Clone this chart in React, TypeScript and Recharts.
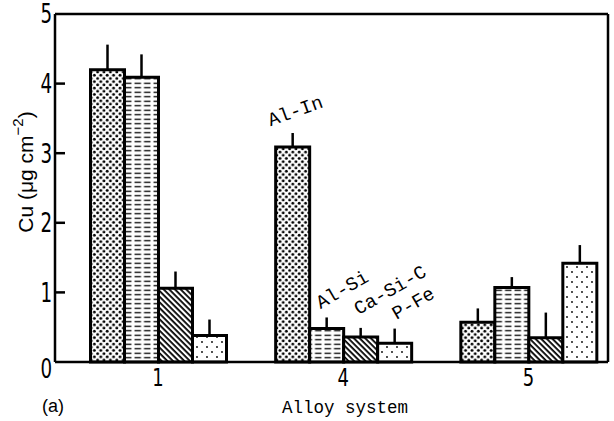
import React from 'react';
import { BarChart, Bar, XAxis, YAxis, ErrorBar, LabelList } from 'recharts';

// ---- data ----
const categories = ['1', '4', '5'];
const alIn = [4.2, 3.09, 0.57];
const alInErr = [0.36, 0.2, 0.2];
const alSi = [4.09, 0.48, 1.07];
const alSiErr = [0.33, 0.16, 0.15];
const caSiC = [1.06, 0.36, 0.35];
const caSiCErr = [0.24, 0.13, 0.36];
const pFe = [0.38, 0.27, 1.42];
const pFeErr = [0.23, 0.21, 0.26];
const yTicks = [0, 1, 2, 3, 4, 5];
const seriesNames = ['Al-In', 'Al-Si', 'Ca-Si-C', 'P-Fe'];
const labelCategory = '4';

const data = categories.map((c, i) => ({
  cat: c,
  alIn: alIn[i],
  alInErr: [0, alInErr[i]],
  alSi: alSi[i],
  alSiErr: [0, alSiErr[i]],
  caSiC: caSiC[i],
  caSiCErr: [0, caSiCErr[i]],
  pFe: pFe[i],
  pFeErr: [0, pFeErr[i]],
}));

const NARROW = "'Liberation Sans Narrow', 'DejaVu Sans Condensed', 'Arial Narrow', sans-serif";
const MONO = "'Liberation Mono', 'DejaVu Sans Mono', monospace";
const SANS = "'Liberation Sans', Arial, sans-serif";

const YTick = (props: any) => {
  const { x, y, payload } = props;
  const v = payload.value;
  const ty = v === 0 ? y + 7 : y;
  const tx = x - 3;
  return (
    <g>
      {v > 0 && v < 5 && (
        <line x1={x} x2={x + 10} y1={y} y2={y} stroke="#000" strokeWidth={2.5} />
      )}
      <text
        x={tx}
        y={ty}
        textAnchor="end"
        dominantBaseline="central"
        fontFamily={NARROW}
        fontStretch="condensed"
        fontSize={26}
        fill="#000"
        transform={`translate(${tx}, 0) scale(0.78, 1) translate(${-tx}, 0)`}
      >
        {v}
      </text>
    </g>
  );
};

const XTick = (props: any) => {
  const { x, y, payload } = props;
  return (
    <text
      x={x}
      y={y + 15}
      textAnchor="middle"
      dominantBaseline="central"
      fontFamily={NARROW}
      fontStretch="condensed"
      fontSize={25}
      fill="#000"
      transform={`translate(${x}, 0) scale(0.8, 1) translate(${-x}, 0)`}
    >
      {payload.value}
    </text>
  );
};

const YLabel = (props: any) => {
  const vb = props.viewBox || { x: 0, y: 0, width: 55, height: 348 };
  const cx = vb.x + 25;
  const cy = vb.y + vb.height / 2 - 16;
  return (
    <text
      x={cx}
      y={cy}
      transform={`rotate(-90, ${cx}, ${cy})`}
      textAnchor="middle"
      dominantBaseline="central"
      fontFamily={SANS}
      fontSize={21}
      fill="#000"
    >
      Cu (μg cm
      <tspan fontSize={15} dy={-8}>−2</tspan>
      <tspan dy={8}>)</tspan>
    </text>
  );
};

const XLabel = (props: any) => {
  const vb = props.viewBox || { x: 55, y: 362, width: 553, height: 59 };
  return (
    <g>
      <text
        x={vb.x + 290}
        y={vb.y + 51}
        textAnchor="middle"
        fontFamily={MONO}
        fontSize={17.5}
        fill="#000"
      >
        Alloy system
      </text>
      <text
        x={vb.x - 2}
        y={vb.y + 50}
        textAnchor="middle"
        fontFamily={SANS}
        fontSize={18}
        fill="#000"
      >
        (a)
      </text>
    </g>
  );
};

const makeSeriesLabel = (name: string, dx: number, dy: number, angle: number) => (props: any) => {
  const { x, y, width, index } = props;
  if (categories[index] !== labelCategory) return null;
  const cx = Number(x) + Number(width) / 2 + dx;
  const cy = Number(y) + dy;
  return (
    <text
      x={cx}
      y={cy}
      transform={`rotate(${angle}, ${cx}, ${cy})`}
      textAnchor="middle"
      dominantBaseline="central"
      fontFamily={MONO}
      fontSize={19}
      fill="#000"
    >
      {name}
    </text>
  );
};

const Patterns = () => (
  <svg width={0} height={0} style={{ position: 'absolute', left: 0, top: 0 }}>
    <defs>
      <pattern id="pAlIn" width="6.4" height="6.4" patternUnits="userSpaceOnUse">
        <rect width="6.4" height="6.4" fill="#fff" />
        <circle cx="1.6" cy="1.6" r="1.45" fill="#000" />
        <circle cx="4.8" cy="4.8" r="1.45" fill="#000" />
      </pattern>
      <pattern id="pAlSi" width="9.5" height="4.5" patternUnits="userSpaceOnUse">
        <rect width="9.5" height="4.5" fill="#fff" />
        <rect x="1.5" y="1.6" width="6.5" height="1.3" fill="#000" />
      </pattern>
      <pattern
        id="pCaSiC"
        width="8"
        height="4"
        patternUnits="userSpaceOnUse"
        patternTransform="rotate(45)"
      >
        <rect width="8" height="4" fill="#fff" />
        <rect x="0" y="0" width="8" height="1.8" fill="#000" />
      </pattern>
      <pattern id="pPFe" width="10" height="10" patternUnits="userSpaceOnUse">
        <rect width="10" height="10" fill="#fff" />
        <circle cx="2" cy="2" r="0.9" fill="#000" />
        <circle cx="7" cy="7" r="0.9" fill="#000" />
      </pattern>
    </defs>
  </svg>
);

export default function App() {
  return (
    <div style={{ position: 'absolute', left: 0, top: 0, width: 614, height: 421, background: '#fff' }}>
      <Patterns />
      <BarChart
        width={614}
        height={421}
        data={data}
        margin={{ top: 13, right: 5, left: 0, bottom: 0 }}
        barGap={0}
        barSize={34}
      >
        <XAxis
          dataKey="cat"
          height={59}
          padding={{ left: 10.5, right: -13 }}
          tickLine={false}
          tickSize={0}
          tickMargin={0}
          tick={<XTick />}
          axisLine={{ stroke: '#000', strokeWidth: 2.5 }}
          label={<XLabel />}
        />
        <XAxis
          xAxisId="top"
          orientation="top"
          dataKey="cat"
          height={1}
          tick={false}
          tickLine={false}
          axisLine={{ stroke: '#000', strokeWidth: 2.5 }}
        />
        <YAxis
          width={55}
          domain={[0, 5]}
          ticks={yTicks}
          type="number"
          tickLine={false}
          tickSize={0}
          tickMargin={0}
          tick={<YTick />}
          axisLine={{ stroke: '#000', strokeWidth: 2.5 }}
          label={<YLabel />}
        />
        <YAxis
          yAxisId="right"
          orientation="right"
          width={1}
          domain={[0, 5]}
          type="number"
          tick={false}
          tickLine={false}
          axisLine={{ stroke: '#000', strokeWidth: 2.5 }}
        />
        <Bar dataKey="alIn" name={seriesNames[0]} fill="url(#pAlIn)" stroke="#000" strokeWidth={3} isAnimationActive={false}>
          <ErrorBar dataKey="alInErr" direction="y" width={0} stroke="#000" strokeWidth={2.5} />
          <LabelList dataKey="alIn" content={makeSeriesLabel(seriesNames[0], 3, -35, -20)} />
        </Bar>
        <Bar dataKey="alSi" name={seriesNames[1]} fill="url(#pAlSi)" stroke="#000" strokeWidth={3} isAnimationActive={false}>
          <ErrorBar dataKey="alSiErr" direction="y" width={0} stroke="#000" strokeWidth={2.5} />
          <LabelList dataKey="alSi" content={makeSeriesLabel(seriesNames[1], 16, -38, -30)} />
        </Bar>
        <Bar dataKey="caSiC" name={seriesNames[2]} fill="url(#pCaSiC)" stroke="#000" strokeWidth={3} isAnimationActive={false}>
          <ErrorBar dataKey="caSiCErr" direction="y" width={0} stroke="#000" strokeWidth={2.5} />
          <LabelList dataKey="caSiC" content={makeSeriesLabel(seriesNames[2], 30, -46, -30)} />
        </Bar>
        <Bar dataKey="pFe" name={seriesNames[3]} fill="url(#pPFe)" stroke="#000" strokeWidth={3} isAnimationActive={false}>
          <ErrorBar dataKey="pFeErr" direction="y" width={0} stroke="#000" strokeWidth={2.5} />
          <LabelList dataKey="pFe" content={makeSeriesLabel(seriesNames[3], 19, -39, -30)} />
        </Bar>
      </BarChart>
    </div>
  );
}
